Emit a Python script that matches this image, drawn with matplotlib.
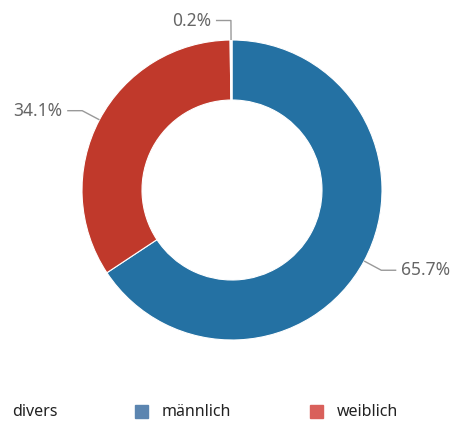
import matplotlib
matplotlib.use("Agg")
import matplotlib.pyplot as plt
import numpy as np
from matplotlib.patches import Rectangle

# Data
categories = ["männlich", "weiblich", "divers"]
values = [65.7, 34.1, 0.2]
pie_colors = ["#2471a3", "#c0392b", "#ffffff"]
legend_order = ["divers", "männlich", "weiblich"]
legend_colors = {"divers": None, "männlich": "#5b85b0", "weiblich": "#d9605b"}

FONT = ["Noto Sans", "DejaVu Sans"]
W, H = 454, 423
fig = plt.figure(figsize=(W / 100, H / 100), dpi=100)
cx, cy, R = 232, 190, 150
ax = fig.add_axes([(cx - R) / W, 1 - (cy + R) / H, 2 * R / W, 2 * R / H])

wedges, _ = ax.pie(values, colors=pie_colors, startangle=90, counterclock=False,
                   radius=1, wedgeprops=dict(width=0.4, edgecolor="white", linewidth=0.8))
ax.set_xlim(-1, 1)
ax.set_ylim(-1, 1)
ax.set_aspect("equal")
ax.axis("off")

line_col = "#999999"
txt_col = "#666666"
for w, v in zip(wedges, values):
    mid = np.deg2rad((w.theta1 + w.theta2) / 2)
    c, s = np.cos(mid), np.sin(mid)
    p0 = (1.0 * c, 1.0 * s)
    p1 = (1.13 * c, 1.13 * s)
    sgn = 1 if c > 0 else -1
    p2 = (p1[0] + sgn * 0.1, p1[1])
    ax.plot([p0[0], p1[0], p2[0]], [p0[1], p1[1], p2[1]], color=line_col, lw=1,
            clip_on=False, solid_capstyle="butt")
    ax.text(p2[0] + sgn * 0.03, p2[1], f"{v}%", ha="left" if sgn > 0 else "right",
            va="center", fontsize=12.5, color=txt_col, family=FONT)

# Legend (manual)
leg_y = 412
leg_text_x = {"divers": 12, "männlich": 162, "weiblich": 337}
leg_box_x = {"divers": None, "männlich": 135, "weiblich": 310}
for name in legend_order:
    col = legend_colors[name]
    if col is not None:
        bx = leg_box_x[name]
        fig.patches.append(Rectangle((bx / W, 1 - (leg_y + 6) / H), 13 / W, 13 / H,
                                     transform=fig.transFigure, color=col, figure=fig))
    fig.text(leg_text_x[name] / W, 1 - leg_y / H, name, ha="left", va="center",
             fontsize=11.5, color="#222222", family=FONT)

fig.savefig("out.png", dpi=100)
